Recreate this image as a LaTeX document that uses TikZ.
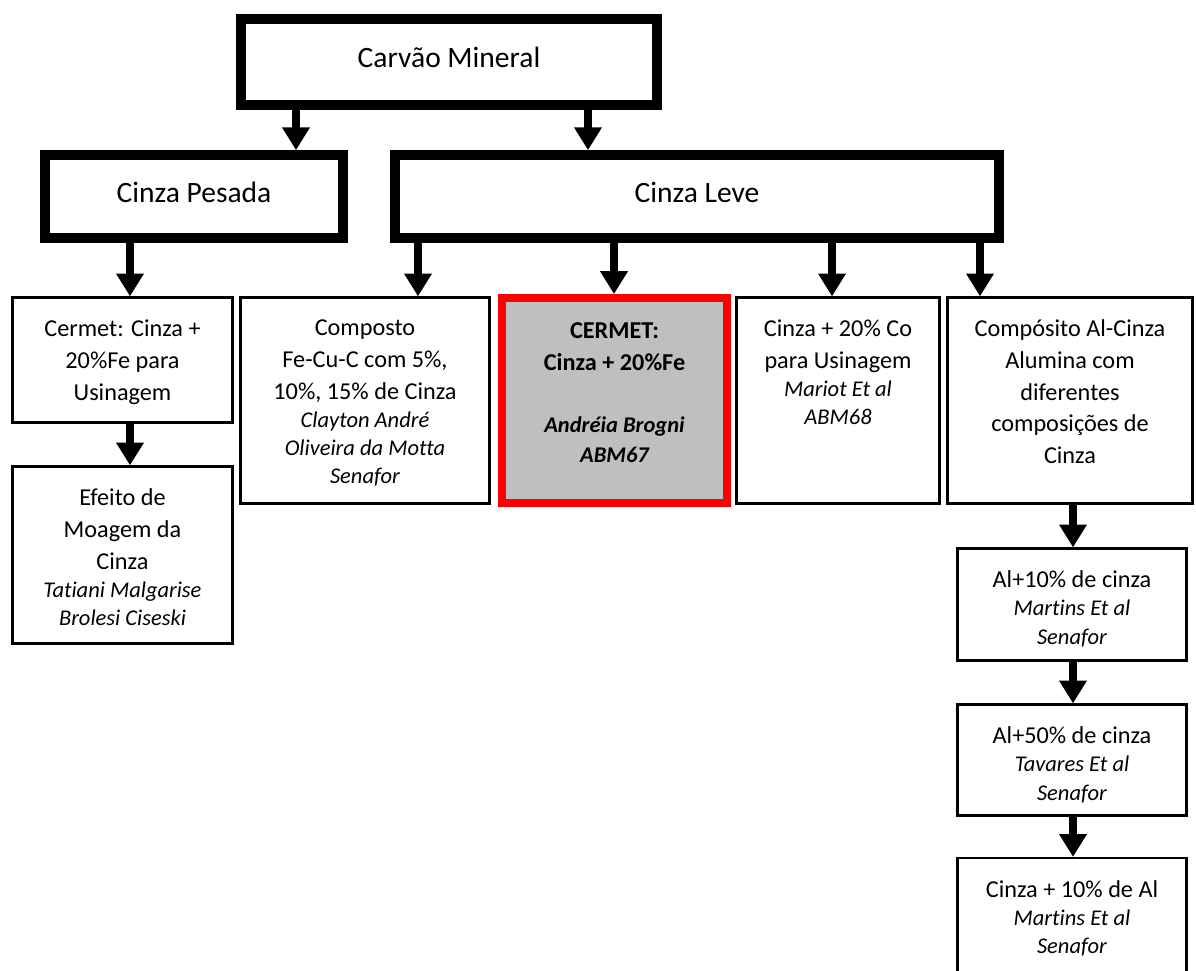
\documentclass[tikz,border=0pt]{standalone}
\usepackage{fontspec}
\setmainfont[Ligatures=NoCommon]{Carlito}
\usetikzlibrary{positioning,arrows.meta}
\definecolor{silver}{HTML}{BFBFBF}
\newcommand{\aut}[1]{{\fontsize{12.8}{16}\selectfont\itshape #1}}

\begin{document}
\begin{tikzpicture}[
    x=0.02cm,
    y=-0.02cm,
    heavy/.style={
        rectangle,
        draw,
        line width=5.5pt,
        inner sep=0pt,
        text depth=5pt,
        font=\fontsize{16.8}{20}\selectfont,
    },
    plain/.style={
        rectangle,
        draw,
        line width=1.3pt,
        inner sep=0pt,
        minimum height=4.12cm,
    },
    hilite/.style={
        rectangle,
        draw=red,
        fill=silver,
        line width=4.5pt,
        inner sep=0pt,
    },
    txt/.style={
        align=center,
        inner sep=0pt,
        font=\fontsize{13.8}{18.1}\selectfont,
    },
    arr/.style={
        line width=5pt,
        -{Triangle[width=15pt,length=13pt]},
    },
]
\useasboundingbox (0,0) rectangle (1196,970);

\node[heavy, minimum width=8.32cm, minimum height=1.72cm] (carvao) at (449,62) {Carvão Mineral};
\node[heavy, minimum width=5.96cm, minimum height=1.66cm] (pesada) at (194,196.5) {Cinza Pesada};
\node[heavy, minimum width=12.08cm, minimum height=1.66cm] (leve) at (697,196.5) {Cinza Leve};

\draw[arr] (carvao.south -| 296,0) -- (pesada.north -| 296,0);
\draw[arr] (carvao.south -| 588,0) -- (leve.north -| 588,0);

% cinza pesada
\node[plain, minimum width=4.40cm, minimum height=2.50cm] (cerm1) at (122.5,360) {};
\node[txt, below=0.46cm of cerm1.north] (cerm1-t) {Cermet: Cinza +\\20\%Fe para\\Usinagem};
\node[plain, minimum width=4.40cm, minimum height=3.54cm] (efeito) at (122.5,555) {};
\node[txt, below=0.46cm of efeito.north] (efeito-t) {Efeito de\\Moagem da\\Cinza\\[-2pt]\aut{Tatiani Malgarise}\\[-2pt]\aut{Brolesi Ciseski}};

\draw[arr] (pesada.south -| 130,0) -- (cerm1.north -| 130,0);
\draw[arr] (cerm1.south -| 130,0) -- (efeito.north -| 130,0);

% cinza leve
\node[plain, minimum width=4.98cm] (comp) at (365,400.5) {};
\node[txt, below=0.46cm of comp.north] (comp-t) {Composto\\Fe-Cu-C com 5\%,\\10\%, 15\% de Cinza\\[-2pt]\aut{Clayton André}\\[-2pt]\aut{Oliveira da Motta}\\[-2pt]\aut{Senafor}};
\node[hilite, minimum width=4.50cm, minimum height=4.10cm] (cermet) at (614.5,400.5) {};
\node[txt, font=\fontsize{13.8}{18.1}\selectfont\bfseries, below=0.56cm of cermet.north] (cermet-t) {CERMET:\\Cinza + 20\%Fe\\[17.5pt]\aut{Andréia Brogni}\\[-1pt]\aut{ABM67}};
\node[plain, minimum width=4.06cm] (co) at (838,400.5) {};
\node[txt, below=0.46cm of co.north] (co-t) {Cinza + 20\% Co\\para Usinagem\\[-2pt]\aut{Mariot Et al}\\[-2pt]\aut{ABM68}};
\node[plain, minimum width=4.90cm] (alc) at (1070,400.5) {};
\node[txt, below=0.46cm of alc.north] (alc-t) {Compósito Al-Cinza\\Alumina com\\diferentes\\composições de\\Cinza};

\foreach \tgt/\x in {comp/418, cermet/614, co/832, alc/980}
    \draw[arr] (leve.south -| \x,0) -- (\tgt.north -| \x,0);

% aluminio
\node[plain, minimum width=4.58cm, minimum height=2.24cm] (al10) at (1072,604.5) {};
\node[txt, below=0.46cm of al10.north] (al10-t) {Al+10\% de cinza\\[-2pt]\aut{Martins Et al}\\[-2pt]\aut{Senafor}};
\node[plain, minimum width=4.58cm, minimum height=2.22cm] (al50) at (1072,760) {};
\node[txt, below=0.46cm of al50.north] (al50-t) {Al+50\% de cinza\\[-2pt]\aut{Tavares Et al}\\[-2pt]\aut{Senafor}};
\node[plain, minimum width=4.58cm, minimum height=2.52cm] (cz10) at (1072,921) {};
\node[txt, below=0.46cm of cz10.north] (cz10-t) {Cinza + 10\% de Al\\[-2pt]\aut{Martins Et al}\\[-2pt]\aut{Senafor}};

\draw[arr] (alc.south -| 1073,0) -- (al10.north -| 1073,0);
\draw[arr] (al10.south -| 1073,0) -- (al50.north -| 1073,0);
\draw[arr] (al50.south -| 1073,0) -- (cz10.north -| 1073,0);

\end{tikzpicture}
\end{document}
